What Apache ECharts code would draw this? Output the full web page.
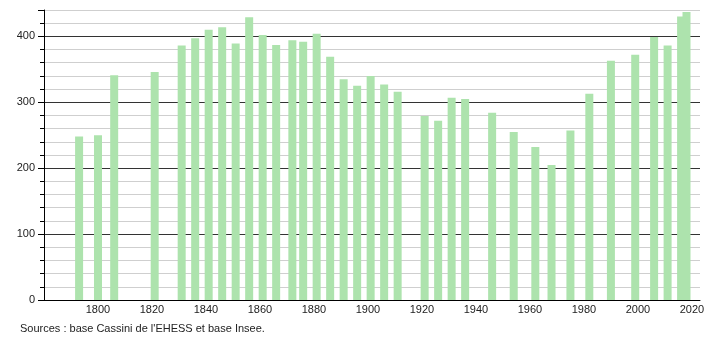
<!DOCTYPE html>
<html>
<head>
<meta charset="utf-8">
<script src="https://cdn.jsdelivr.net/npm/echarts@6/dist/echarts.min.js"></script>
<style>
html,body{margin:0;padding:0;background:#fff;}
#c{width:710px;height:340px;}
</style>
</head>
<body>
<div id="c"></div>
<script>
const years = [1793,1800,1806,1821,1831,1836,1841,1846,1851,1856,1861,1866,1872,1876,1881,1886,1891,1896,1901,1906,1911,1921,1926,1931,1936,1946,1954,1962,1968,1975,1982,1990,1999,2006,2011,2016,2018];
const population = [248,250,341,346,386,397,410,414,389,429,402,387,394,392,404,369,335,325,340,327,316,279,272,307,305,284,255,232,205,257,313,363,372,399,386,430,437];
const sourceText = "Sources : base Cassini de l'EHESS et base Insee.";

const font = "'Liberation Sans', Arial, sans-serif";
const chart = echarts.init(document.getElementById('c'), null, {renderer:'canvas'});
chart.setOption({
  animation:false,
  grid:{left:44,right:10,top:10,bottom:40,containLabel:false},
  xAxis:{
    type:'value', min:1780, max:2023, interval:20,
    axisLine:{show:true,lineStyle:{color:'#000',width:1}},
    axisTick:{show:false},
    splitLine:{show:false},
    axisLabel:{color:'#222',fontFamily:font,fontSize:11,margin:4,showMinLabel:false,showMaxLabel:false,
      formatter:v=>String(v)}
  },
  yAxis:[{
    type:'value', min:0, max:440, interval:20,
    axisLine:{show:true,lineStyle:{color:'#000',width:1}},
    axisTick:{show:true,length:4,lineStyle:{color:'#000'}},
    splitLine:{show:true,lineStyle:{color:'#cfcfcf',width:1}},
    axisLabel:{color:'#222',fontFamily:font,fontSize:11,margin:9,
      formatter:v=>(v%100===0?String(v):'')}
  },{
    type:'value', min:0, max:440, interval:100, position:'left',
    axisLine:{show:false}, axisLabel:{show:false},
    axisTick:{show:true,length:6,inside:false,lineStyle:{color:'#000'}},
    splitLine:{show:true,showMaxLine:false,lineStyle:{color:'#333',width:1}}
  }],
  graphic:[{type:'text',left:20,top:323,style:{text:sourceText,font:'11px '+font,fill:'#222'}}],
  series:[{
    type:'bar', yAxisIndex:0, barWidth:8, barGap:'-100%',
    itemStyle:{color:'#ade3ad'},
    data:years.map((y,i)=>[y,population[i]]),
    z:3
  }]
});
</script>
</body>
</html>
